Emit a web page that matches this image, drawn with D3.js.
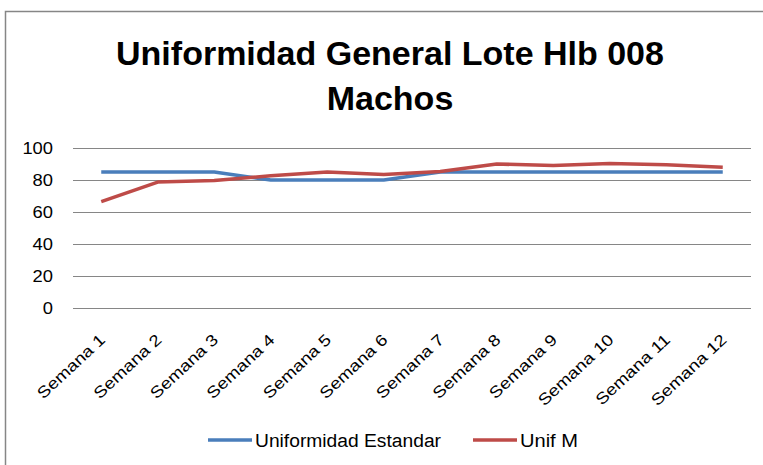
<!DOCTYPE html>
<html>
<head>
<meta charset="utf-8">
<script src="https://cdn.jsdelivr.net/npm/d3@7"></script>
<style>
  body { margin: 0; background: #fff; }
  svg { display: block; }
</style>
</head>
<body>
<svg width="763" height="465"></svg>
<script>
const weeks = ["Semana 1", "Semana 2", "Semana 3", "Semana 4", "Semana 5", "Semana 6",
  "Semana 7", "Semana 8", "Semana 9", "Semana 10", "Semana 11", "Semana 12"];
const estandar = [85, 85, 85, 80, 80, 80, 85, 85, 85, 85, 85, 85];
const unifM = [66.5, 78.7, 79.7, 82.6, 85, 83.5, 85.3, 90, 89, 90.3, 89.5, 88];
const yTicks = [0, 20, 40, 60, 80, 100];
const seriesNames = ["Uniformidad Estandar", "Unif M"];
const colors = ["#4a7ebb", "#be4b48"];

const font = "'Liberation Sans', Arial, sans-serif";
const svg = d3.select("svg");

// outer frame (runs off the window on the right and bottom)
svg.append("rect")
  .attr("x", 5.5).attr("y", 11.5)
  .attr("width", 800).attr("height", 500)
  .attr("fill", "none").attr("stroke", "#868686").attr("stroke-width", 1.5);

// title
const title = svg.append("text")
  .attr("text-anchor", "middle")
  .attr("font-family", font)
  .attr("font-weight", "bold")
  .attr("font-size", 34)
  .attr("fill", "#000");
title.append("tspan").attr("x", 390).attr("y", 65).text("Uniformidad General Lote Hlb 008");
title.append("tspan").attr("x", 390).attr("y", 110).text("Machos");

const margin = { left: 73, right: 12, top: 148, bottom: 157 };
const innerW = 763 - margin.left - margin.right;
const innerH = 465 - margin.top - margin.bottom;

const x = d3.scaleBand().domain(weeks).range([0, innerW]);
const y = d3.scaleLinear().domain([0, 100]).range([innerH, 0]);

const g = svg.append("g").attr("transform", `translate(${margin.left},${margin.top})`);

// gridlines + y labels
const yAxis = g.append("g")
  .call(d3.axisLeft(y).tickValues(yTicks).tickSize(-innerW).tickPadding(20));
yAxis.select(".domain").remove();
yAxis.selectAll(".tick line").attr("stroke", "#868686").attr("stroke-width", 1);
yAxis.selectAll(".tick text")
  .attr("font-family", font).attr("font-size", 16).attr("fill", "#000")
  .attr("textLength", d => String(d).length * 10.2)
  .attr("lengthAdjust", "spacingAndGlyphs");

// x labels, rotated (reference glyphs are wider than Liberation's, so stretch a bit)
const xAxis = g.append("g")
  .attr("transform", `translate(0,${innerH})`)
  .call(d3.axisBottom(x).tickSize(0).tickPadding(0));
xAxis.select(".domain").remove();
xAxis.selectAll(".tick text")
  .attr("font-family", font).attr("font-size", 16).attr("fill", "#000")
  .attr("text-anchor", "end")
  .attr("dy", 0)
  .attr("transform", "translate(5,33) rotate(-43)")
  .each(function () {
    const len = this.getComputedTextLength();
    d3.select(this).attr("textLength", len * 1.18).attr("lengthAdjust", "spacingAndGlyphs");
  });

// lines
const line = d3.line()
  .x((d, i) => x(weeks[i]) + x.bandwidth() / 2)
  .y(d => y(d));

[estandar, unifM].forEach((vals, i) => {
  g.append("path")
    .datum(vals)
    .attr("d", line)
    .attr("fill", "none")
    .attr("stroke", colors[i])
    .attr("stroke-width", 3.5)
    .attr("stroke-linejoin", "round");
});

// legend
const legendX = [208, 473];
const legendW = [186, 58];
const legend = svg.append("g").attr("transform", "translate(0,440)");
seriesNames.forEach((name, i) => {
  legend.append("line")
    .attr("x1", legendX[i]).attr("x2", legendX[i] + 44)
    .attr("y1", 0).attr("y2", 0)
    .attr("stroke", colors[i]).attr("stroke-width", 3.5);
  legend.append("text")
    .attr("x", legendX[i] + 47).attr("y", 7)
    .attr("font-family", font).attr("font-size", 18).attr("fill", "#000")
    .attr("textLength", legendW[i])
    .attr("lengthAdjust", "spacingAndGlyphs")
    .text(name);
});
</script>
</body>
</html>
